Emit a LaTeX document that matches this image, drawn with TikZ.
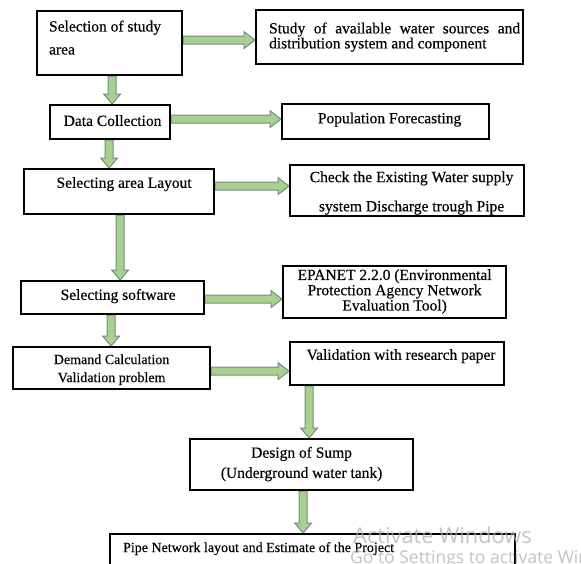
\documentclass[tikz,border=0pt]{standalone}
\usepackage{fontspec}
\setmainfont{Liberation Serif}[UprightFeatures={FakeBold=0.35}]
\newfontfamily\wmfont{Open Sans}
\usetikzlibrary{calc,backgrounds}
\definecolor{arrowfill}{RGB}{169,208,142}
\definecolor{arrowline}{RGB}{112,142,132}
\definecolor{wmgray}{RGB}{175,175,175}
\tikzset{
  box/.style={draw=black, line width=2.2pt, anchor=north west, inner sep=0pt,
              font=\fontsize{15.5}{15}\selectfont},
  blockarrow/.style={fill=arrowfill, draw=arrowline, line width=1pt, line join=miter},
  wm/.style={text=wmgray, text opacity=0.75, inner sep=0pt, anchor=west}
}
% horizontal block arrow: from point #1 to x of point #2 (at y of #1)
\newcommand\hblockarrow[2]{%
  \path[blockarrow] let \p1=(#1), \p2=(#2) in
    (\x1,\y1+4pt) -- (\x2-11pt,\y1+4pt) -- (\x2-11pt,\y1+8.5pt) -- (\x2,\y1)
    -- (\x2-11pt,\y1-8.5pt) -- (\x2-11pt,\y1-4pt) -- (\x1,\y1-4pt) -- cycle;}
% vertical block arrow: from point #1 down to y of point #2 (at x of #1)
\newcommand\vblockarrow[2]{%
  \path[blockarrow] let \p1=(#1), \p2=(#2) in
    (\x1-4pt,\y1) -- (\x1-4pt,\y2+10pt) -- (\x1-8.5pt,\y2+10pt) -- (\x1,\y2)
    -- (\x1+8.5pt,\y2+10pt) -- (\x1+4pt,\y2+10pt) -- (\x1+4pt,\y1) -- cycle;}
\begin{document}
\begin{tikzpicture}[x=1pt,y=-1pt]
\useasboundingbox (0,0) rectangle (581,563);
\clip (0,0) rectangle (581,563);

\node[box, minimum width=145pt, minimum height=64pt] (b1) at (36,10)
  {\raisebox{5.5pt}[\height][\depth]{\parbox{121pt}{\raggedright Selection of study\\[8pt]area}}};
\node[box, minimum width=267pt, minimum height=54pt] (b2) at (255,9)
  {\hspace{10pt}\parbox{251pt}{\fontsize{15.5}{15}\selectfont Study of available water sources and\linebreak distribution system and component}};
\node[box, minimum width=120pt, minimum height=34pt] (b3) at (49,104)
  {\hspace{5pt}\raisebox{1.5pt}[\height][\depth]{Data Collection}};
\node[box, minimum width=207pt, minimum height=35pt] (b4) at (281,103)
  {\hspace{8pt}\raisebox{2pt}[\height][\depth]{Population Forecasting}};
\node[box, minimum width=190pt, minimum height=45pt] (b5) at (23,168)
  {\hspace{10pt}\raisebox{7.5pt}[\height][\depth]{Selecting area Layout}};
\node[box, minimum width=234pt, minimum height=51pt] (b6) at (289,164)
  {\hspace{9pt}\raisebox{-3pt}[\height][\depth]{\begin{tabular}{@{}c@{}}Check the Existing Water supply\\[14pt]system Discharge trough Pipe\end{tabular}}};
\node[box, minimum width=183pt, minimum height=33pt] (b7) at (20,280)
  {\hspace{11pt}\raisebox{1.5pt}[\height][\depth]{Selecting software}};
\node[box, minimum width=223pt, minimum height=52pt] (b8) at (282,265)
  {\begin{tabular}{@{}c@{}}EPANET 2.2.0 (Environmental\\Protection Agency Network\\Evaluation Tool)\end{tabular}};
\node[box, minimum width=197pt, minimum height=42pt, font=\fontsize{14}{15}\selectfont] (b9) at (12,346)
  {\raisebox{-2pt}[\height][\depth]{\begin{tabular}{@{}c@{}}Demand Calculation\\[3pt]Validation problem\end{tabular}}};
\node[box, minimum width=214pt, minimum height=43pt] (b10) at (289,341)
  {\hspace{8pt}\raisebox{7.5pt}[\height][\depth]{Validation with research paper}};
\node[box, minimum width=223pt, minimum height=51pt] (b11) at (189,438)
  {\begin{tabular}{@{}c@{}}Design of Sump\\[5pt](Underground water tank)\end{tabular}};
\node[box, minimum width=405pt, minimum height=57pt, font=\fontsize{14}{15}\selectfont] (b12) at (109,533)
  {\raisebox{14pt}[\height][\depth]{\makebox[379pt][l]{Pipe Network layout and Estimate of the Project}}};

\begin{pgfonlayer}{background}
\hblockarrow{[yshift=3pt]b1.east}{b2.west}
\vblockarrow{[xshift=2.5pt]b1.south}{b3.north}
\hblockarrow{[yshift=3pt]b3.east}{b4.west}
\vblockarrow{[xshift=-1pt]b3.south}{b5.north}
\hblockarrow{[yshift=5.5pt]b5.east}{b6.west}
\vblockarrow{[xshift=1pt]b5.south}{b7.north}
\hblockarrow{[yshift=-1.5pt]b7.east}{b8.west}
\vblockarrow{[xshift=-1.5pt]b7.south}{b9.north}
\hblockarrow{[yshift=-3pt]b9.east}{b10.west}
\vblockarrow{[xshift=-88pt]b10.south}{b11.north}
\vblockarrow{[xshift=1.5pt]b11.south}{b12.north}
\end{pgfonlayer}

\node[wm, font=\wmfont\fontsize{21.8}{21.8}\selectfont] (wm1) at (353,535) {Activate Windows};
\node[wm, font=\wmfont\fontsize{17.5}{17.5}\selectfont] (wm2) at (350,559) {Go to Settings to activate Windows.};
\end{tikzpicture}
\end{document}
